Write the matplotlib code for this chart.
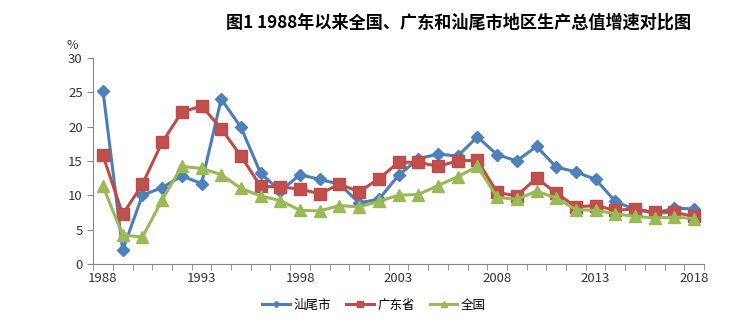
import numpy as np
import matplotlib
matplotlib.use('Agg')
import matplotlib.pyplot as plt
from matplotlib.ticker import FixedLocator

plt.rcParams['font.family'] = ['Noto Sans CJK SC', 'DejaVu Sans']

years = list(range(1988, 2019))
shanwei = [25.2, 2.0, 10.0, 11.1, 12.8, 11.7, 24.0, 19.9, 13.2, 10.6,
           13.0, 12.3, 11.6, 8.9, 9.4, 12.9, 15.3, 16.0, 15.7, 18.5,
           15.9, 15.0, 17.1, 14.1, 13.4, 12.3, 9.1, 7.9, 7.4, 8.1, 8.0]
guangdong = [15.8, 7.2, 11.6, 17.7, 22.1, 23.0, 19.7, 15.7, 11.3, 11.2,
             10.9, 10.2, 11.6, 10.5, 12.4, 14.8, 14.8, 14.2, 15.0, 15.1,
             10.4, 9.9, 12.5, 10.3, 8.3, 8.5, 7.8, 8.0, 7.5, 7.5, 6.9]
national = [11.3, 4.2, 3.9, 9.3, 14.2, 13.9, 13.0, 11.0, 9.9, 9.2,
            7.8, 7.7, 8.5, 8.3, 9.1, 10.0, 10.1, 11.4, 12.7, 14.2,
            9.7, 9.4, 10.6, 9.6, 7.9, 7.8, 7.3, 6.9, 6.7, 6.8, 6.6]
names = ['汕尾市', '广东省', '全国']
year_labels = [1988, 1993, 1998, 2003, 2008, 2013, 2018]

fig = plt.figure(figsize=(7.45, 3.29), dpi=100)
ax = fig.add_axes([0.125, 0.198, 0.82, 0.626])

ax.plot(years, shanwei, color='#4A7EBB', lw=2.2, marker='D', ms=6,
        markerfacecolor='#4F81BD', markeredgecolor='#4A7EBB', label=names[0])
ax.plot(years, guangdong, color='#BE4B48', lw=2.2, marker='s', ms=8,
        markerfacecolor='#C0504D', markeredgecolor='#BE4B48', label=names[1])
ax.plot(years, national, color='#98B954', lw=2.2, marker='^', ms=8,
        markerfacecolor='#9BBB59', markeredgecolor='#98B954', label=names[2])

ax.set_xlim(1987.5, 2018.5)
ax.set_ylim(0, 30)
ax.set_yticks(range(0, 31, 5))
ax.set_xticks(year_labels)
ax.xaxis.set_minor_locator(FixedLocator(np.arange(1987.5, 2019, 1)))
ax.tick_params(axis='x', which='major', length=0, pad=6, labelsize=9.5, colors='#333333')
ax.tick_params(axis='x', which='minor', length=4, color='#868686')
ax.tick_params(axis='y', length=4, color='#868686', labelsize=9.5, labelcolor='#333333')

for s in ['top', 'right']:
    ax.spines[s].set_visible(False)
for s in ['left', 'bottom']:
    ax.spines[s].set_color('#868686')

fig.text(0.089, 0.85, '%', fontsize=9, color='#333333')
fig.text(0.616, 0.93, '图1 1988年以来全国、广东和汕尾市地区生产总值增速对比图',
         fontsize=12.3, fontweight='bold', ha='center', va='center')

ax.legend(loc='upper center', bbox_to_anchor=(0.46, -0.115), ncol=3, frameon=False,
          fontsize=9, markerscale=0.5, handlelength=2.2, handletextpad=0.3,
          columnspacing=1.2)

fig.savefig('out.png', dpi=100)
